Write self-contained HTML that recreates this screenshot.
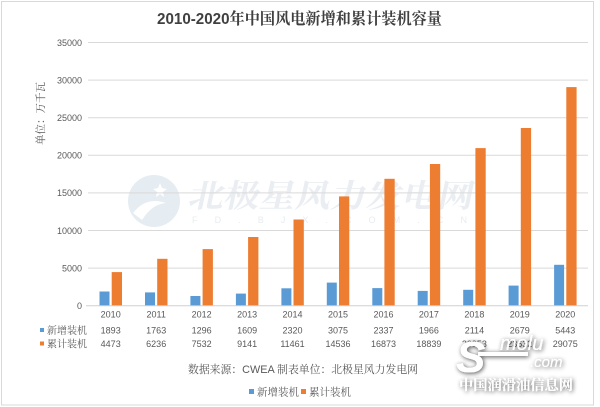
<!DOCTYPE html>
<html><head><meta charset="utf-8">
<style>
html,body{margin:0;padding:0;background:#fff;}
svg{display:block;}
text{font-family:"Liberation Sans","Noto Serif CJK SC",serif;}
</style></head>
<body>
<svg width="600" height="407" viewBox="0 0 600 407" xmlns="http://www.w3.org/2000/svg">
<defs>
<filter id="sh" x="-20%" y="-20%" width="140%" height="140%">
<feGaussianBlur in="SourceAlpha" stdDeviation="2.5" result="b"/>
<feOffset dx="1" dy="1" result="o"/>
<feComponentTransfer in="o" result="c"><feFuncA type="linear" slope="0.7"/></feComponentTransfer>
<feMerge><feMergeNode in="c"/><feMergeNode in="SourceGraphic"/></feMerge>
</filter>
</defs>
<rect x="0" y="0" width="600" height="407" fill="#fff"/>
<rect x="1.5" y="1.5" width="592" height="403.5" fill="none" stroke="#d9d9d9" stroke-width="1"/>

<!-- title -->
<text x="157" y="24" textLength="285" lengthAdjust="spacingAndGlyphs" fill="#404040" font-size="16"><tspan font-weight="bold" font-family="Liberation Sans, sans-serif">2010-2020</tspan><tspan font-family="Noto Serif CJK SC, serif" font-weight="bold">年中国风电新增和累计装机容量</tspan></text>

<!-- watermark center -->
<circle cx="154" cy="201" r="26" fill="#e5ecf2"/>
<path d="M133 213 Q146 196 166 203 Q152 204 142 220 Z" fill="#fff"/>
<path d="M160 183 l2 5 5 1 -4 3 1 5 -4 -3 -4 3 1 -5 -4 -3 5 -1z" fill="#fff"/>
<g transform="translate(187,207) skewX(-12)">
<text x="0" y="0" textLength="285" lengthAdjust="spacingAndGlyphs" font-size="32" font-weight="bold" fill="#eaeef2" font-family="Noto Sans CJK SC, sans-serif">北极星风力发电网</text>
</g>
<text x="192" y="223" textLength="275" lengthAdjust="spacing" font-size="9" fill="#e8ecf0" font-family="Liberation Sans, sans-serif">F D . B J X . C O M . C N</text>

<!-- gridlines -->
<g stroke="#d9d9d9" stroke-width="1">
<line x1="88" y1="268.1" x2="588" y2="268.1"/>
<line x1="88" y1="230.5" x2="588" y2="230.5"/>
<line x1="88" y1="192.9" x2="588" y2="192.9"/>
<line x1="88" y1="155.3" x2="588" y2="155.3"/>
<line x1="88" y1="117.7" x2="588" y2="117.7"/>
<line x1="88" y1="80.1" x2="588" y2="80.1"/>
<line x1="88" y1="42.5" x2="588" y2="42.5"/>
</g>

<!-- y labels -->
<g font-size="9" fill="#595959" text-anchor="end" font-family="Liberation Sans, sans-serif">
<text x="82" y="309">0</text>
<text x="82" y="271.4">5000</text>
<text x="82" y="233.8">10000</text>
<text x="82" y="196.2">15000</text>
<text x="82" y="158.6">20000</text>
<text x="82" y="121">25000</text>
<text x="82" y="83.4">30000</text>
<text x="82" y="45.8">35000</text>
</g>

<text transform="translate(44,113.5) rotate(-90)" text-anchor="middle" font-size="10.5" fill="#595959" font-family="Noto Serif CJK SC, serif">单位：万千瓦</text>

<!-- bars -->
<g fill="#5b9bd5">
<rect x="99.5" y="291.5" width="10" height="14.2"/>
<rect x="145" y="292.4" width="10" height="13.3"/>
<rect x="190.4" y="296" width="10" height="9.7"/>
<rect x="235.9" y="293.6" width="10" height="12.1"/>
<rect x="281.4" y="288.3" width="10" height="17.4"/>
<rect x="326.8" y="282.6" width="10" height="23.1"/>
<rect x="372.3" y="288.1" width="10" height="17.6"/>
<rect x="417.7" y="290.9" width="10" height="14.8"/>
<rect x="463.2" y="289.8" width="10" height="15.9"/>
<rect x="508.6" y="285.6" width="10" height="20.1"/>
<rect x="554.1" y="264.8" width="10" height="40.9"/>
</g>
<g fill="#ed7d31">
<rect x="111.7" y="272.1" width="10.3" height="33.6"/>
<rect x="157.2" y="258.8" width="10.3" height="46.9"/>
<rect x="202.6" y="249.1" width="10.3" height="56.6"/>
<rect x="248.1" y="237" width="10.3" height="68.7"/>
<rect x="293.5" y="219.5" width="10.3" height="86.2"/>
<rect x="339" y="196.4" width="10.3" height="109.3"/>
<rect x="384.4" y="178.8" width="10.3" height="126.9"/>
<rect x="429.9" y="164" width="10.3" height="141.7"/>
<rect x="475.4" y="148.1" width="10.3" height="157.6"/>
<rect x="520.8" y="128" width="10.3" height="177.7"/>
<rect x="566.3" y="87.1" width="10.3" height="218.6"/>
</g>
<line x1="86" y1="305.7" x2="588" y2="305.7" stroke="#d0d0d0" stroke-width="1"/>

<!-- data table -->
<g font-size="9" fill="#595959" text-anchor="middle" font-family="Liberation Sans, sans-serif">
<text x="110.7" y="317.5">2010</text><text x="156.2" y="317.5">2011</text><text x="201.6" y="317.5">2012</text><text x="247.1" y="317.5">2013</text><text x="292.5" y="317.5">2014</text><text x="338" y="317.5">2015</text><text x="383.5" y="317.5">2016</text><text x="428.9" y="317.5">2017</text><text x="474.4" y="317.5">2018</text><text x="519.8" y="317.5">2019</text><text x="565.3" y="317.5">2020</text>
<text x="110.7" y="333.3">1893</text><text x="156.2" y="333.3">1763</text><text x="201.6" y="333.3">1296</text><text x="247.1" y="333.3">1609</text><text x="292.5" y="333.3">2320</text><text x="338" y="333.3">3075</text><text x="383.5" y="333.3">2337</text><text x="428.9" y="333.3">1966</text><text x="474.4" y="333.3">2114</text><text x="519.8" y="333.3">2679</text><text x="565.3" y="333.3">5443</text>
<text x="110.7" y="347">4473</text><text x="156.2" y="347">6236</text><text x="201.6" y="347">7532</text><text x="247.1" y="347">9141</text><text x="292.5" y="347">11461</text><text x="338" y="347">14536</text><text x="383.5" y="347">16873</text><text x="428.9" y="347">18839</text><text x="474.4" y="347">20953</text><text x="519.8" y="347">23632</text><text x="565.3" y="347">29075</text>
</g>
<rect x="40" y="328" width="4" height="4" fill="#5b9bd5"/>
<rect x="40" y="341.5" width="4" height="4" fill="#ed7d31"/>
<g font-size="10" fill="#595959" font-family="Noto Serif CJK SC, serif">
<text x="47" y="333.8">新增装机</text>
<text x="47" y="347.3">累计装机</text>
</g>

<!-- footer -->
<text x="303" y="373" text-anchor="middle" font-size="11" fill="#595959" textLength="230" lengthAdjust="spacingAndGlyphs"><tspan font-family="Noto Serif CJK SC, serif">数据来源：</tspan><tspan font-family="Liberation Sans, sans-serif">CWEA </tspan><tspan font-family="Noto Serif CJK SC, serif">制表单位：北极星风力发电网</tspan></text>

<!-- legend -->
<rect x="249" y="389" width="5" height="5" fill="#5b9bd5"/>
<text x="257" y="395.5" font-size="10.5" fill="#595959" font-family="Noto Serif CJK SC, serif">新增装机</text>
<rect x="301" y="389" width="5" height="5" fill="#ed7d31"/>
<text x="309" y="395.5" font-size="10.5" fill="#595959" font-family="Noto Serif CJK SC, serif">累计装机</text>

<!-- bottom-right watermark -->
<g filter="url(#sh)" fill="#ffffff">
<text x="456" y="372" font-size="44" font-weight="bold" font-style="italic" font-family="Liberation Serif, serif">S</text>
<text x="500" y="350" font-size="20" font-style="italic" font-family="Liberation Serif, serif">molu</text>
<rect x="478" y="352" width="50" height="4"/>
<text x="530" y="367" font-size="15" font-style="italic" font-family="Liberation Serif, serif">.com</text>
<text x="459" y="390" textLength="114" lengthAdjust="spacingAndGlyphs" font-size="14" font-weight="bold" font-family="Noto Sans CJK SC, sans-serif">中国润滑油信息网</text>
</g>
</svg>
</body></html>
